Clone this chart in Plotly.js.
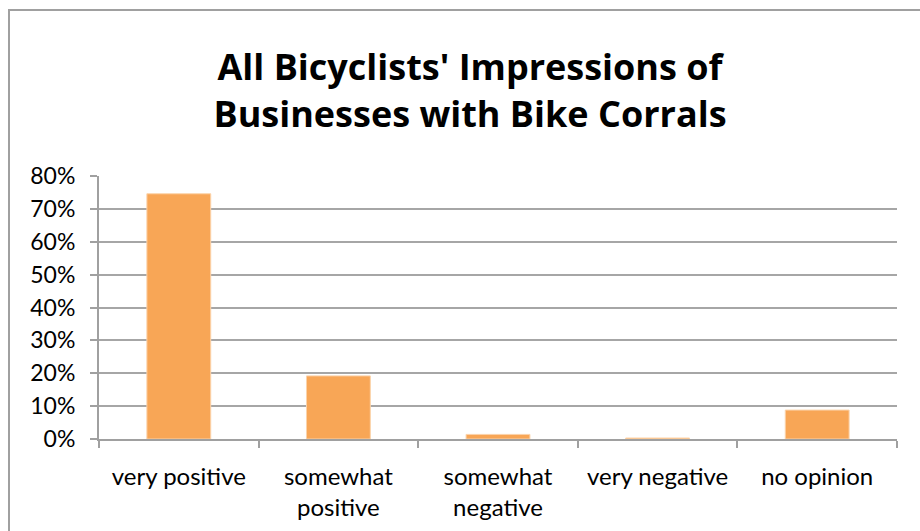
<!DOCTYPE html>
<html>
<head>
<meta charset="utf-8">
<script src="https://cdn.plot.ly/plotly-3.0.1.min.js"></script>
<style>html,body{margin:0;padding:0;background:#fff;} #chart{width:920px;height:531px;}</style>
</head>
<body>
<div id="chart"></div>
<script>
const categories = ["very positive", "somewhat<br>positive", "somewhat<br>negative", "very negative", "no opinion"];
const values = [0.746, 0.192, 0.014, 0.003, 0.088];
const yTickVals = [0, 0.1, 0.2, 0.3, 0.4, 0.5, 0.6, 0.7, 0.8];
const titleText = "All Bicyclists' Impressions of<br>Businesses with Bike Corrals";

const W = 920, H = 531, L = 99, R = 23, T = 176, B = 92;
const pw = W - L - R, ph = H - T - B;
const px = v => (v - L) / pw;
const py = v => (H - B - v) / ph;

const font = "Lato, 'Open Sans', sans-serif";
const data = [{
  type: 'bar',
  x: categories,
  y: values,
  marker: {color: '#F8A656', line: {color: '#FBD3AA', width: 1}},
  hoverinfo: 'none'
}];
const layout = {
  width: W, height: H,
  margin: {l: L, r: R, t: T, b: B},
  paper_bgcolor: '#fff', plot_bgcolor: '#fff',
  bargap: 0.6,
  showlegend: false,
  title: {text: titleText, font: {family: "'Open Sans', sans-serif", size: 36, color: '#000', weight: 'bold'},
          x: 470 / W, xanchor: 'center', xref: 'container', y: 1 - 80 / H, yanchor: 'top', yref: 'container'},
  xaxis: {
    type: 'category', showgrid: false, showline: true, linecolor: '#A0A0A0', linewidth: 2,
    ticks: 'outside', ticklen: 7, tickcolor: '#A0A0A0', tickwidth: 2, tickson: 'boundaries',
    tickfont: {family: font, size: 24, color: '#000'}, ticklabelstandoff: 15, fixedrange: true
  },
  yaxis: {
    range: [0, 0.8], tickvals: yTickVals, tickformat: '.0%',
    showgrid: true, gridcolor: '#A6A6A6', gridwidth: 2, zeroline: false,
    showline: true, linecolor: '#A0A0A0', linewidth: 2,
    ticks: 'outside', ticklen: 7, tickcolor: '#A0A0A0', tickwidth: 2,
    tickfont: {family: font, size: 23, color: '#000'}, ticklabelstandoff: 10, fixedrange: true
  },
  shapes: [{
    type: 'path', xref: 'paper', yref: 'paper',
    path: `M ${px(9)} ${py(540)} L ${px(9)} ${py(10)} L ${px(930)} ${py(10)}`,
    line: {color: '#A0A0A0', width: 2}
  }]
};
Plotly.newPlot('chart', data, layout, {displayModeBar: false, staticPlot: true});
</script>
</body>
</html>
